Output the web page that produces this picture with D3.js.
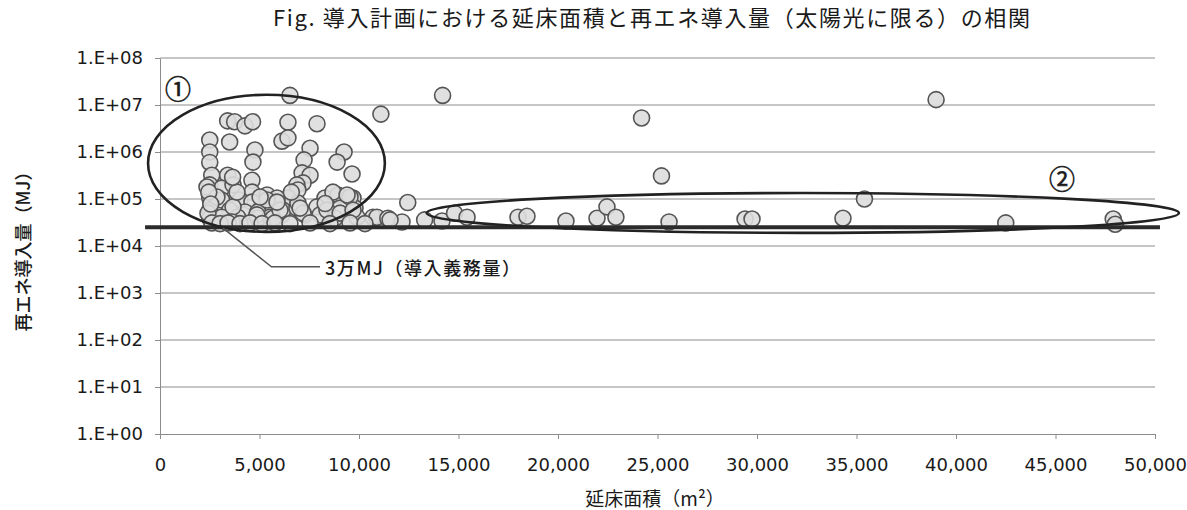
<!DOCTYPE html>
<html lang="ja">
<head>
<meta charset="UTF-8">
<title>延床面積と再エネ導入量の相関</title>
<style>
  html, body { margin: 0; padding: 0; background: #fff; }
  svg { display: block; }
  .axis path, .axis line { stroke: #8c8c8c; }
  .axis text { fill: #1a1a1a; font-family: "DejaVu Sans", Verdana, sans-serif; }
  .jp { font-family: "Noto Sans CJK JP", "Noto Sans", sans-serif; fill: #1a1a1a; }
</style>
</head>
<body>
<svg id="chart"></svg>
<script src="https://d3js.org/d3.v7.min.js"></script>
<script>
// floor area (m2) and renewable energy introduced (MJ)
const floorArea = [
  6530, 11100, 14200, 24200, 25200, 39000, 12450, 35400,
  3400, 3750, 4270, 4650, 6430, 7890, 6130, 6430,
  2500, 3500, 4770, 2500, 2500, 4670, 2600, 3400, 4620, 2500,
  3100, 3670, 4620, 5380, 2500, 3100, 4020, 4620, 2500, 3500,
  4270, 4920, 5680, 6180, 2500, 3100, 3900, 4920, 5530, 6130,
  7540, 7240, 9250, 8900, 9650, 7140, 7540, 7190, 6880, 6930,
  6430, 5880, 8290, 8940, 9700, 6180, 6880, 7290, 7890, 8040,
  9050, 9800, 9900, 8790, 5680, 10700,
  10900, 11450, 12160, 13300, 14170, 14800, 15430,
  17990, 18440, 20400, 21960, 22460, 22910, 25580, 29400, 29750,
  34320, 42500, 47900, 48000,
  2360, 2860, 3670, 2410, 3620, 4870, 5380, 6030, 6930, 7190,
  8390, 9050, 9550, 9700, 11560, 3870, 5030, 5880, 8690, 9400, 7040,
  2450, 2550, 3650, 6600, 8300,
  2610, 3020, 3420, 4020, 4520, 5130, 5780, 6530, 7540, 8540, 9550, 10300
];
const renewableMJ = [
  1.6e7, 6.4e6, 1.6e7, 5.3e6, 3.1e5, 1.3e7, 8.4e4, 1.0e5,
  4.6e6, 4.4e6, 3.6e6, 4.4e6, 4.3e6, 4.0e6, 1.7e6, 2.0e6,
  1.8e6, 1.63e6, 1.1e6, 1.0e6, 6.0e5, 6.1e5, 3.2e5, 3.2e5, 2.5e5, 2.0e5,
  1.7e5, 2.0e5, 1.4e5, 1.22e5, 1.05e5, 9.5e4, 9.5e4, 8.6e4, 5.8e4, 5.8e4,
  5.3e4, 5.3e4, 6.4e4, 6.8e4, 3.9e4, 4.1e4, 4.1e4, 3.9e4, 4.1e4, 4.6e4,
  1.2e6, 6.8e5, 1.0e6, 6.1e5, 3.4e5, 3.6e5, 3.2e5, 2.2e5, 2.0e5, 1.55e5,
  1.05e5, 1.05e5, 1.05e5, 1.22e5, 1.05e5, 5.8e4, 6.4e4, 4.6e4, 6.8e4, 4.6e4,
  6.4e4, 6.4e4, 4.1e4, 3.9e4, 3.9e4, 4.1e4,
  4.1e4, 3.9e4, 3.25e4, 3.6e4, 3.4e4, 5.0e4, 4.1e4,
  4.1e4, 4.3e4, 3.4e4, 3.9e4, 6.8e4, 4.1e4, 3.25e4, 3.75e4, 3.75e4,
  3.9e4, 3.1e4, 3.75e4, 2.9e4,
  1.8e5, 1.1e5, 6.8e4, 5.0e4, 3.25e4, 4.6e4, 9.5e4, 5.8e4, 8.2e4, 5.0e4,
  5.8e4, 5.0e4, 1.1e5, 5.8e4, 3.6e4, 1.4e5, 1.1e5, 8.6e4, 1.4e5, 1.22e5, 6.4e4,
  1.4e5, 7.8e4, 2.9e5, 1.4e5, 8.0e4,
  3.1e4, 3.0e4, 3.1e4, 3.0e4, 3.1e4, 3.0e4, 3.1e4, 3.0e4, 3.1e4, 3.0e4, 3.1e4, 3.0e4
];

const xTicks = [0, 5000, 10000, 15000, 20000, 25000, 30000, 35000, 40000, 45000, 50000];
const yTicks = [1, 10, 100, 1e3, 1e4, 1e5, 1e6, 1e7, 1e8];
const yTickLabels = ["1.E+00", "1.E+01", "1.E+02", "1.E+03", "1.E+04", "1.E+05", "1.E+06", "1.E+07", "1.E+08"];

const titleText = "Fig. 導入計画における延床面積と再エネ導入量（太陽光に限る）の相関";
const xTitle = "延床面積（m²）";
const yTitle = "再エネ導入量（MJ）";

// obligation line (3万MJ) as drawn on the figure
const obligationMJ = 25000;
const obligationLabel = "3万MJ（導入義務量）";
const groupLabels = ["①", "②"];

const W = 1187, H = 510;
const svg = d3.select("#chart").attr("width", W).attr("height", H);

const x = d3.scaleLinear().domain([0, 50000]).range([160, 1155]);
const y = d3.scaleLog().domain([1, 1e8]).range([434, 58]);

// gridlines
svg.append("g")
  .selectAll("line")
  .data(yTicks.slice(1))
  .join("line")
  .attr("x1", x(0)).attr("x2", x(50000))
  .attr("y1", d => y(d)).attr("y2", d => y(d))
  .attr("stroke", "#8c8c8c")
  .attr("stroke-width", 1);

svg.append("g")
  .attr("class", "axis")
  .attr("transform", `translate(${x(0)},0)`)
  .call(d3.axisLeft(y).tickValues(yTicks).tickFormat((d, i) => yTickLabels[i])
    .tickSize(5).tickSizeOuter(0).tickPadding(12))
  .call(g => g.selectAll("text").attr("font-size", 18));

svg.append("g")
  .attr("class", "axis")
  .attr("transform", `translate(0,${y(1)})`)
  .call(d3.axisBottom(x).tickValues(xTicks).tickFormat(d3.format(","))
    .tickSize(5).tickSizeOuter(0).tickPadding(19))
  .call(g => g.selectAll("text").attr("font-size", 18));

// points
const pts = floorArea.map((a, i) => ({ a, v: renewableMJ[i] }));
svg.append("g")
  .selectAll("circle")
  .data(pts)
  .join("circle")
  .attr("cx", d => x(d.a))
  .attr("cy", d => y(d.v))
  .attr("r", 8)
  .attr("fill", "#dddddd")
  .attr("fill-opacity", 0.9)
  .attr("stroke", "#555")
  .attr("stroke-width", 1.6);

// obligation line
svg.append("line")
  .attr("x1", x(-750)).attr("x2", x(50250))
  .attr("y1", y(obligationMJ)).attr("y2", y(obligationMJ))
  .attr("stroke", "#2b2b2b")
  .attr("stroke-width", 4);

// group ellipses (data-space bounds)
const groups = [
  { x0: -600, x1: 11300, top: 1.65e7, bottom: 2.0e4 },
  { x0: 13400, x1: 51200, top: 1.34e5, bottom: 1.9e4 }
];
svg.append("g")
  .selectAll("ellipse")
  .data(groups)
  .join("ellipse")
  .attr("cx", d => (x(d.x0) + x(d.x1)) / 2)
  .attr("cy", d => (y(d.top) + y(d.bottom)) / 2)
  .attr("rx", d => (x(d.x1) - x(d.x0)) / 2)
  .attr("ry", d => (y(d.bottom) - y(d.top)) / 2)
  .attr("fill", "none")
  .attr("stroke", "#222")
  .attr("stroke-width", 2.6);

const labelPos = [[905, 2.3e7], [45325, 2.8e5]];
svg.append("g")
  .selectAll("text")
  .data(groupLabels)
  .join("text")
  .attr("class", "jp")
  .attr("x", (d, i) => x(labelPos[i][0]))
  .attr("y", (d, i) => y(labelPos[i][1]))
  .attr("text-anchor", "middle")
  .attr("dominant-baseline", "central")
  .attr("font-size", 26)
  .attr("stroke", "#1a1a1a")
  .attr("stroke-width", 0.6)
  .text(d => d);

// leader + label for the obligation line
const leader = [[3166, 2.4e4], [5600, 3600], [8040, 3600]];
svg.append("path")
  .attr("d", d3.line().x(d => x(d[0])).y(d => y(d[1]))(leader))
  .attr("fill", "none")
  .attr("stroke", "#555")
  .attr("stroke-width", 1.5);
svg.append("text")
  .attr("class", "jp")
  .attr("x", x(8290))
  .attr("y", y(3600))
  .attr("dominant-baseline", "central")
  .attr("font-size", 18)
  .attr("font-weight", 500)
  .attr("textLength", 195)
  .attr("lengthAdjust", "spacing")
  .text(obligationLabel);

// titles
svg.append("text")
  .attr("class", "jp")
  .attr("x", 273).attr("y", 26)
  .attr("font-size", 22)
  .attr("textLength", 757)
  .attr("lengthAdjust", "spacing")
  .text(titleText);

svg.append("text")
  .attr("class", "jp")
  .attr("x", 655).attr("y", 497)
  .attr("text-anchor", "middle")
  .attr("dominant-baseline", "central")
  .attr("font-size", 19)
  .text(xTitle);

svg.append("text")
  .attr("class", "jp")
  .attr("transform", "translate(22,247) rotate(-90)")
  .attr("text-anchor", "middle")
  .attr("dominant-baseline", "central")
  .attr("font-size", 18)
  .attr("font-weight", 500)
  .text(yTitle);
</script>
</body>
</html>
